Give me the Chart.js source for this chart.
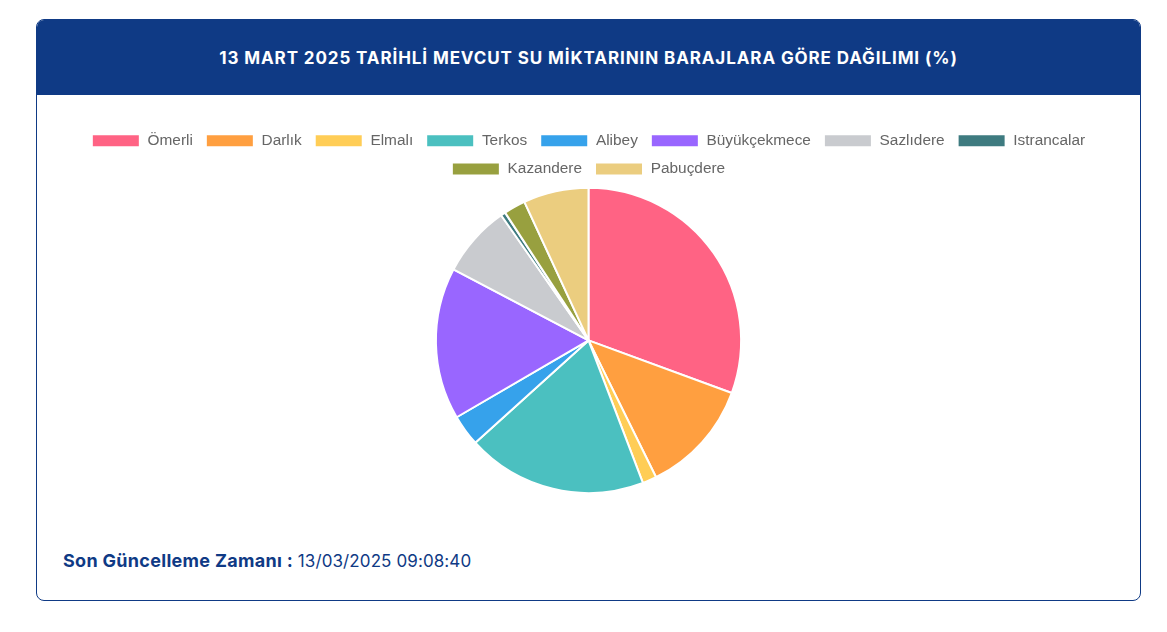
<!DOCTYPE html>
<html lang="tr">
<head>
  <meta charset="UTF-8" />
  <title>Baraj Dağılımı</title>
  <script src="https://cdn.jsdelivr.net/npm/chart.js"></script>
  <style>
    html, body {
      margin: 0;
      padding: 0;
      background: #ffffff;
    }
    .card {
      position: absolute;
      left: 36px;
      top: 19px;
      width: 1103px;
      height: 580px;
      border: 1px solid #0f3a85;
      border-radius: 8px;
      overflow: hidden;
      background: #fff;
    }
    .card-header {
      height: 75px;
      background: #0f3a85;
      color: #fff;
      font-family: "Inter", "Noto Sans", sans-serif;
      font-weight: 700;
      font-size: 17px;
      letter-spacing: 0.9px;
      line-height: 76px;
      text-align: center;
    }
    .chart-box {
      position: absolute;
      left: 0;
      top: 100px;
      width: 1103px;
      height: 374px;
    }
    .updated {
      position: absolute;
      left: 26px;
      top: 530px;
      font-family: "Inter", "Noto Sans", sans-serif;
      font-size: 17px;
      letter-spacing: 0.1px;
      color: #0f3a85;
    }
    .updated b {
      font-weight: 700;
      font-size: 18px;
      letter-spacing: 0.3px;
    }
  </style>
</head>
<body>
  <div class="card">
    <div class="card-header">13 MART 2025 TARİHLİ MEVCUT SU MİKTARININ BARAJLARA GÖRE DAĞILIMI (%)</div>
    <div class="chart-box">
      <canvas id="damChart"></canvas>
    </div>
    <div class="updated"><b>Son Güncelleme Zamanı :</b> 13/03/2025 09:08:40</div>
  </div>

  <script>
    // baraj adları ve yüzdeler (resimden okunan yaklaşık değerler)
    const dams = ["Ömerli", "Darlık", "Elmalı", "Terkos", "Alibey", "Büyükçekmece", "Sazlıdere", "Istrancalar", "Kazandere", "Pabuçdere"];
    const shares = [30.6, 12.1, 1.5, 19.1, 3.3, 16.1, 7.6, 0.5, 2.3, 6.9];
    const sliceColors = [
      "rgb(255, 99, 132)",
      "rgb(255, 159, 64)",
      "rgb(255, 205, 86)",
      "rgb(75, 192, 192)",
      "rgb(54, 162, 235)",
      "rgb(153, 102, 255)",
      "rgb(201, 203, 207)",
      "#3e7b80",
      "#98a03f",
      "#ebcd7f"
    ];

    const ctx = document.getElementById("damChart").getContext("2d");
    new Chart(ctx, {
      type: "pie",
      data: {
        labels: dams,
        datasets: [{
          data: shares,
          backgroundColor: sliceColors,
          borderColor: "#fff",
          borderWidth: 2
        }]
      },
      options: {
        responsive: true,
        maintainAspectRatio: false,
        animation: false,
        plugins: {
          legend: {
            position: "top",
            labels: {
              boxWidth: 48,
              boxHeight: 13,
              padding: 13,
              color: "#666",
              font: { family: "Liberation Sans, Arial, sans-serif", size: 15.4 }
            }
          },
          tooltip: { enabled: true }
        }
      }
    });
  </script>
</body>
</html>
